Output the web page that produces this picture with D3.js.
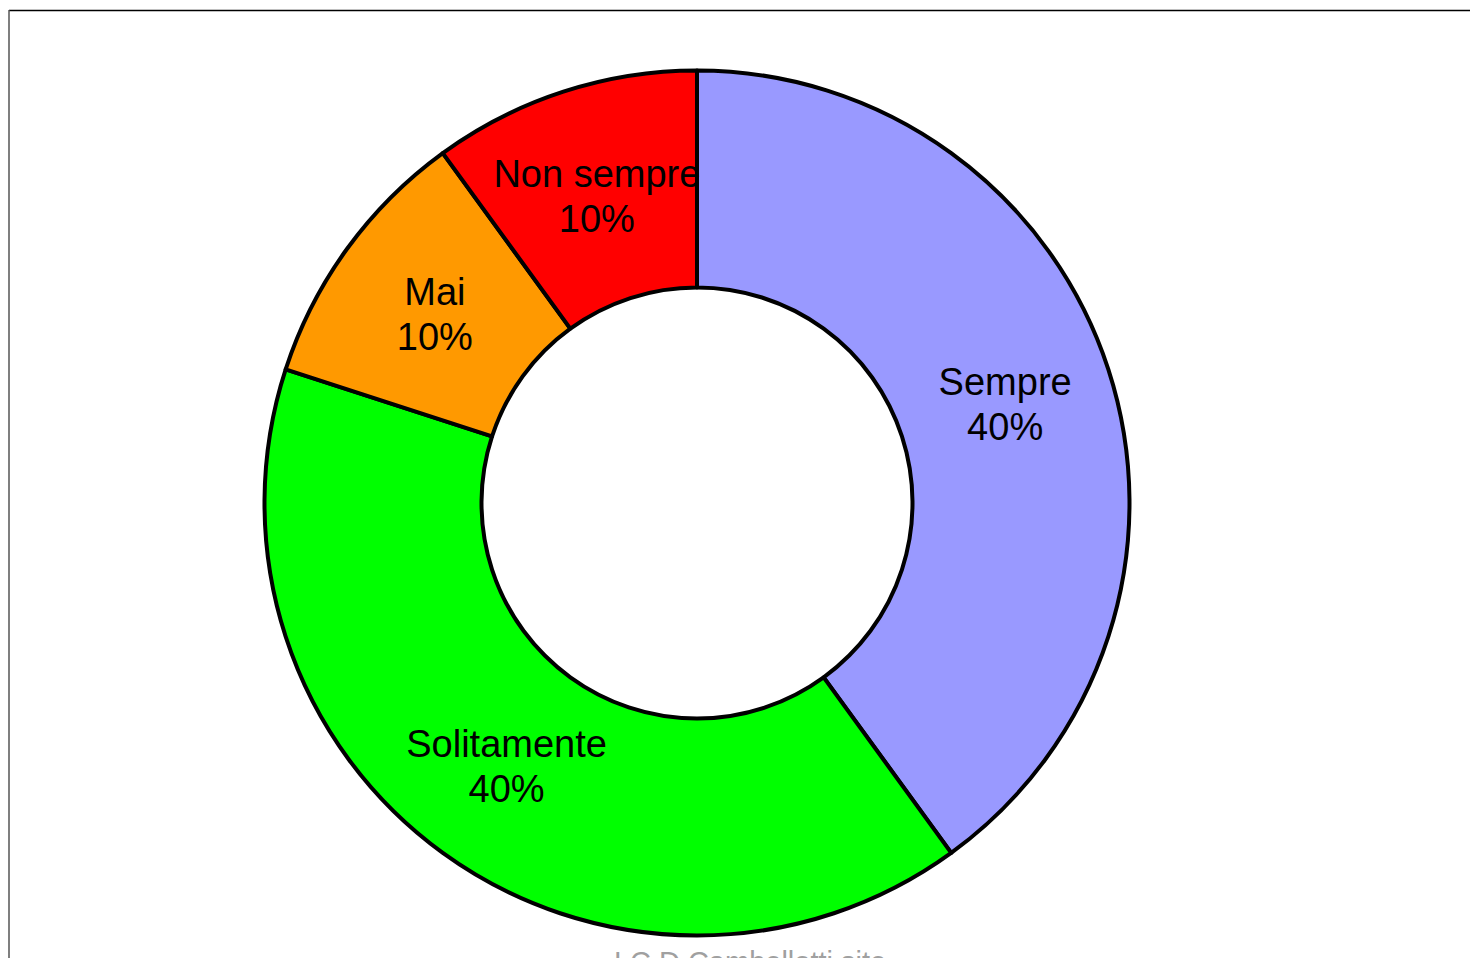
<!DOCTYPE html>
<html>
<head>
<meta charset="utf-8">
<script src="https://cdn.jsdelivr.net/npm/d3@7/dist/d3.min.js"></script>
<style>
  html, body { margin: 0; padding: 0; background: #fff; overflow: hidden; }
  svg { display: block; }
</style>
</head>
<body>
<svg id="chart" width="1470" height="958"></svg>
<script>
// Survey answers and their shares (%)
const categories = ["Sempre", "Solitamente", "Mai", "Non sempre"];
const values = [40, 40, 10, 10];
const colors = ["#9999FF", "#00FF00", "#FF9900", "#FF0000"];
const footer = "I.C.D.Cambellotti.site";

const svg = d3.select("#chart");
const W = 1470, H = 958;
const cx = 697, cy = 503;
const outerR = 432.5, innerR = 215.5;

// Frame lines (top and left edges of the slide frame)
svg.append("line").attr("x1", 9).attr("y1", 10.5).attr("x2", W).attr("y2", 10.5)
  .attr("stroke", "#000").attr("stroke-width", 1.5);
svg.append("line").attr("x1", 9).attr("y1", 10).attr("x2", 9).attr("y2", H)
  .attr("stroke", "#555").attr("stroke-width", 1.5);

const data = categories.map((c, i) => ({ name: c, value: values[i], color: colors[i] }));

const pie = d3.pie().value(d => d.value).sort(null);
const arc = d3.arc().innerRadius(innerR).outerRadius(outerR);

const g = svg.append("g").attr("transform", `translate(${cx},${cy})`);
const arcs = pie(data);

g.selectAll("path.slice")
  .data(arcs)
  .join("path")
  .attr("class", "slice")
  .attr("d", arc)
  .attr("fill", d => d.data.color)
  .attr("stroke", "#000")
  .attr("stroke-width", 4)
  .attr("stroke-linejoin", "round");

// Labels: name and percentage at each slice centroid
const labels = g.selectAll("text.label")
  .data(arcs)
  .join("text")
  .attr("class", "label")
  .attr("font-family", "'Liberation Sans', Arial, sans-serif")
  .attr("font-size", 38)
  .attr("fill", "#000")
  .attr("text-anchor", "middle")
  .attr("transform", d => { const [x, y] = arc.centroid(d); return `translate(${x},${y})`; });

labels.append("tspan").attr("x", 0).attr("y", -8).text(d => d.data.name);
labels.append("tspan").attr("x", 0).attr("y", 37).text(d => d.data.value + "%");

// Footer credit, partly below the visible area
svg.append("text")
  .attr("x", 750).attr("y", 972)
  .attr("text-anchor", "middle")
  .attr("font-family", "'Liberation Sans', Arial, sans-serif")
  .attr("font-size", 29)
  .attr("fill", "#a0a0a0")
  .text(footer);
</script>
</body>
</html>
